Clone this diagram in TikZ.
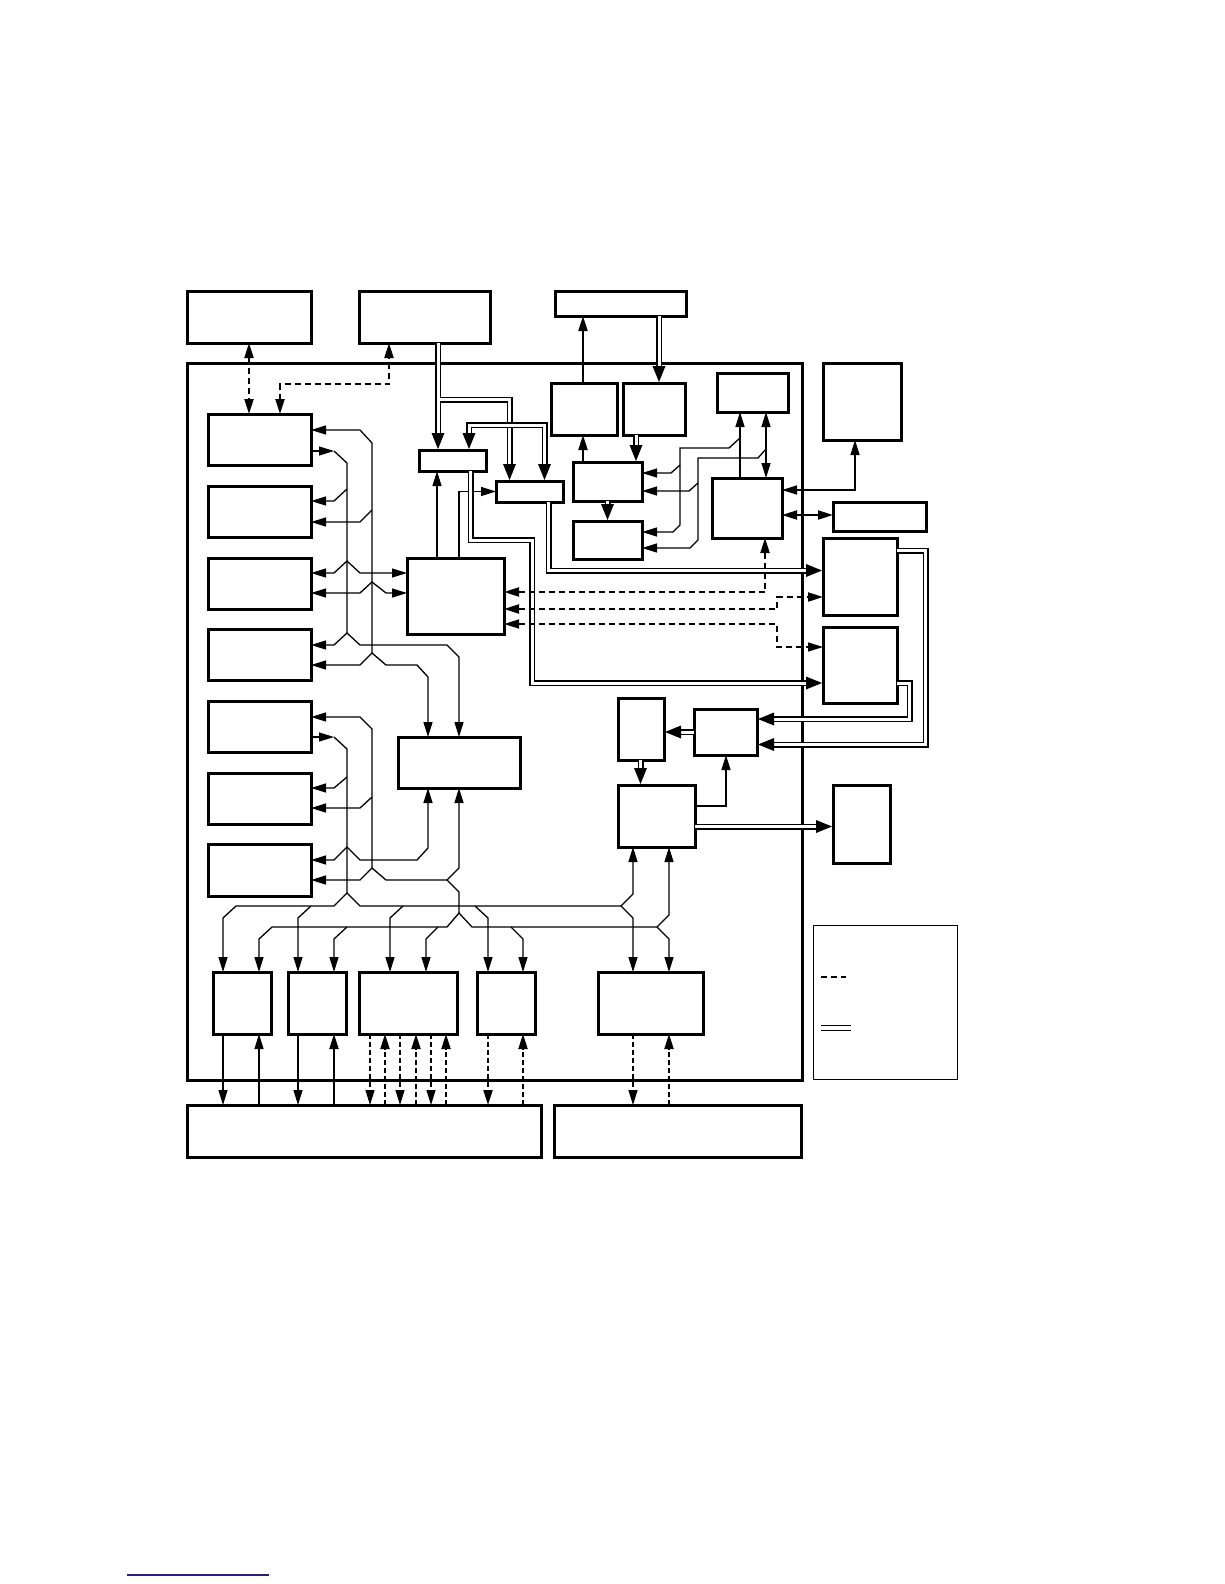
\documentclass[tikz,border=0pt]{standalone}
\usetikzlibrary{arrows.meta}
\definecolor{linkblue}{RGB}{30,30,140}
\newcommand\tipD[2]{\fill (#1-6.5,#2-16) -- (#1+6.5,#2-16) -- (#1,#2) -- cycle;}
\newcommand\tipR[2]{\fill (#1-16,#2-6.5) -- (#1-16,#2+6.5) -- (#1,#2) -- cycle;}
\newcommand\tipL[2]{\fill (#1+16,#2-6.5) -- (#1+16,#2+6.5) -- (#1,#2) -- cycle;}
\begin{document}
\begin{tikzpicture}[x=1pt,y=-1pt,
 box/.style={draw,line width=3pt,inner sep=0pt,outer sep=0pt},
 ln/.style={line width=1.3pt},
 thk/.style={line width=2pt},
 dsh/.style={dash pattern=on 6pt off 4pt},
 dshthin/.style={dash pattern=on 5pt off 3pt, line width=1.2pt},
 dshthk/.style={dash pattern=on 5pt off 3pt, line width=2pt},
 dbl/.style={double, line width=1.5pt, double distance=3pt},
 >={Triangle[length=15pt,width=9pt]},
]
\useasboundingbox (0,0) rectangle (1224,1584);

% ---------- boxes ----------
\node[box,minimum width=124pt,minimum height=52pt] (A) at (249,317) {};
\node[box,minimum width=131pt,minimum height=52pt] (B) at (424.5,317) {};
\node[box,minimum width=131pt,minimum height=25pt] (I) at (620.5,303.5) {};
\node[box,minimum width=615pt,minimum height=717pt] (main) at (494.5,721.5) {};
\node[box,minimum width=78pt,minimum height=77pt] (Q) at (862,401.5) {};
\node[box,minimum width=71pt,minimum height=39pt] (K) at (752.5,392.5) {};
\node[box,minimum width=66pt,minimum height=52pt] (J1) at (584,409) {};
\node[box,minimum width=62pt,minimum height=52pt] (J2) at (654,409) {};
\node[box,minimum width=103pt,minimum height=51pt] (L1) at (259.5,439.5) {};
\node[box,minimum width=103pt,minimum height=51pt] (L2) at (259.5,511.5) {};
\node[box,minimum width=103pt,minimum height=51pt] (L3) at (259.5,583.5) {};
\node[box,minimum width=103pt,minimum height=51pt] (L4) at (259.5,654.5) {};
\node[box,minimum width=103pt,minimum height=51pt] (L5) at (259.5,726.5) {};
\node[box,minimum width=103pt,minimum height=51pt] (L6) at (259.5,798.5) {};
\node[box,minimum width=103pt,minimum height=52pt] (L7) at (259.5,870) {};
\node[box,minimum width=67pt,minimum height=21pt] (M1) at (452.5,460.5) {};
\node[box,minimum width=67pt,minimum height=21pt] (M2) at (529.5,491.5) {};
\node[box,minimum width=69pt,minimum height=39pt] (N1) at (607.5,481.5) {};
\node[box,minimum width=69pt,minimum height=38pt] (N2) at (607.5,540) {};
\node[box,minimum width=70pt,minimum height=60pt] (P) at (747,508) {};
\node[box,minimum width=93pt,minimum height=29pt] (R) at (879.5,516.5) {};
\node[box,minimum width=97pt,minimum height=76pt] (C) at (455.5,596) {};
\node[box,minimum width=74pt,minimum height=77pt] (S1) at (860,576.5) {};
\node[box,minimum width=74pt,minimum height=76pt] (S2) at (860,665) {};
\node[box,minimum width=46pt,minimum height=62pt] (T) at (641,729) {};
\node[box,minimum width=63pt,minimum height=46pt] (U) at (725.5,732) {};
\node[box,minimum width=122pt,minimum height=51pt] (D) at (459,762.5) {};
\node[box,minimum width=77pt,minimum height=62pt] (V) at (656.5,816) {};
\node[box,minimum width=57pt,minimum height=78pt] (W) at (861.5,824) {};
\node[box,minimum width=58pt,minimum height=62pt] (G1) at (242,1003) {};
\node[box,minimum width=58pt,minimum height=62pt] (G2) at (317,1003) {};
\node[box,minimum width=98pt,minimum height=62pt] (G3) at (408,1003) {};
\node[box,minimum width=58pt,minimum height=62pt] (G4) at (506,1003) {};
\node[box,minimum width=105pt,minimum height=62pt] (F) at (650.5,1003) {};
\node[draw,line width=1pt,inner sep=0pt,outer sep=0pt,minimum width=144pt,minimum height=154pt] (Lg) at (885,1002) {};
\node[box,minimum width=354pt,minimum height=52pt] (H1) at (364,1131) {};
\node[box,minimum width=247pt,minimum height=52pt] (H2) at (677.5,1131) {};

% ---------- top dashed ----------
\draw[thk,dsh,<->] (249,0 |- A.south) -- (249,0 |- L1.north);
\draw[thk,dsh,<->] (280,0 |- L1.north) -- (280,384) -- (389,384) -- (389,0 |- B.south);

% ---------- I, J, N ----------
\draw[thk,->] (583,0 |- J1.north) -- (583,0 |- I.south);
\draw[dbl] (659,0 |- I.south) -- (659,374);
\tipD{659}{382}
\draw[thk,->] (583,0 |- N1.north) -- (583,0 |- J1.south);
\draw[dbl] (636,0 |- J2.south) -- (636,453);
\tipD{636}{461}
\draw[dbl] (607.5,0 |- N1.south) -- (607.5,512);
\tipD{607.5}{520}

% ---------- B feeds M1, M2 ----------
\draw[dbl] (438,0 |- B.south) -- (438,441) (438,399.5) -- (509.5,399.5) -- (509.5,472);
\tipD{438}{449}
\tipD{509.5}{480}
\draw[dbl] (469,441) -- (469,425) -- (544.5,425) -- (544.5,472);
\tipD{469}{449}
\tipD{544.5}{480}
\draw[ln,->] (437,0 |- C.north) -- (437,0 |- M1.south);
\draw[ln,->] (459,0 |- C.north) -- (459,491.5) -- (M2.west);

% ---------- M1 -> S2, M2 -> S1 ----------
\draw[dbl] (470.5,0 |- M1.south) -- (470.5,540) -- (532,540) -- (532,683) -- (814,683);
\tipR{822}{683}
\draw[dbl] (548.5,0 |- M2.south) -- (548.5,570.5) -- (814,570.5);
\tipR{822}{570.5}

% ---------- K, P feed N1, N2 ----------
\draw[ln,->] (740,0 |- P.north) -- (740,0 |- K.south);
\draw[ln,->] (740,438) -- (729,448) -- (680,448) -- (680,465) -- (671,473) -- (N1.east |- 0,473);
\draw[ln,->] (680,465) -- (680,525) -- (673,532) -- (N2.east |- 0,532);
\draw[ln,<->] (766,0 |- K.south) -- (766,0 |- P.north);
\draw[ln,->] (766,449) -- (758,458) -- (698,458) -- (698,483) -- (689,491) -- (N1.east |- 0,491);
\draw[ln,->] (698,483) -- (698,540) -- (690,548) -- (N2.east |- 0,548);
\draw[ln,<->] (P.east |- 0,490) -- (855,490) -- (855,0 |- Q.south);
\draw[thk,<->] (P.east |- 0,515) -- (R.west |- 0,515);

% ---------- dashed C links ----------
\draw[thk,dsh,<->] (C.east |- 0,592) -- (765,592) -- (765,0 |- P.south);
\draw[thk,dsh,<->] (C.east |- 0,609) -- (777,609) -- (777,597) -- (S1.west |- 0,597);
\draw[ln,dsh,<->] (C.east |- 0,624) -- (777,624) -- (777,647) -- (S2.west |- 0,647);

% ---------- S1, S2 -> U, T, V, W ----------
\draw[dbl] (S1.east |- 0,550.5) -- (925.5,550.5) -- (925.5,744.5) -- (766,744.5);
\tipL{758}{744.5}
\draw[dbl] (S2.east |- 0,683) -- (909.5,683) -- (909.5,719) -- (766,719);
\tipL{758}{719}
\draw[dbl] (U.west |- 0,732) -- (673,732);
\tipL{665}{732}
\draw[dbl] (640.5,0 |- T.south) -- (640.5,776);
\tipD{640.5}{784}
\draw[ln,->] (V.east |- 0,806) -- (726,806) -- (726,0 |- U.south);
\draw[dbl] (V.east |- 0,826.5) -- (824,826.5);
\tipR{832}{826.5}

% ---------- left buses (upper) ----------
\draw[ln,->] (L1.east |- 0,451) -- (334,451);
\draw[ln] (334,451) -- (347,463) -- (347,633);
\draw[ln,<-] (L1.east |- 0,430) -- (360,430) -- (372,443) -- (372,653);
\draw[ln,->] (347,489) -- (334,501) -- (L2.east |- 0,501);
\draw[ln,->] (372,510) -- (360,522) -- (L2.east |- 0,522);
\draw[ln,<->] (L3.east |- 0,573) -- (334,573) -- (347,561) -- (360,573) -- (C.west |- 0,573);
\draw[ln,<->] (L3.east |- 0,593) -- (360,593) -- (372,582) -- (386,593) -- (C.west |- 0,593);
\draw[ln,<->] (L4.east |- 0,645) -- (334,645) -- (347,633) -- (360,645) -- (447,645) -- (459,657) -- (459,0 |- D.north);
\draw[ln,<->] (L4.east |- 0,665) -- (360,665) -- (372,653) -- (386,665) -- (417,665) -- (428,677) -- (428,0 |- D.north);

% ---------- left buses (lower) ----------
\draw[ln,->] (L5.east |- 0,737) -- (334,737);
\draw[ln] (334,737) -- (347,749) -- (347,893);
\draw[ln,<-] (L5.east |- 0,717) -- (360,717) -- (372,729) -- (372,868);
\draw[ln,->] (347,777) -- (334,788) -- (L6.east |- 0,788);
\draw[ln,->] (372,797) -- (360,808) -- (L6.east |- 0,808);
\draw[ln,<->] (L7.east |- 0,860) -- (334,860) -- (347,847) -- (360,860) -- (417,860) -- (428,848) -- (428,0 |- D.south);
\draw[ln,<->] (L7.east |- 0,880) -- (360,880) -- (372,868) -- (386,880) -- (447,880) -- (459,868) -- (459,0 |- D.south);
\draw[ln] (447,880) -- (459,892) -- (459,913);

% ---------- bottom buses ----------
\draw[ln,<->] (223,0 |- G1.north) -- (223,918) -- (236,906) -- (334,906) -- (347,893) -- (360,906) -- (621,906) -- (633,894) -- (633,0 |- V.south);
\draw[ln,->] (311,906) -- (298,918) -- (298,0 |- G2.north);
\draw[ln,->] (403,906) -- (390,918) -- (390,0 |- G3.north);
\draw[ln,->] (475,906) -- (488,918) -- (488,0 |- G4.north);
\draw[ln,->] (621,906) -- (633,918) -- (633,0 |- F.north);
\draw[ln,<->] (259,0 |- G1.north) -- (259,939) -- (272,927) -- (447,927) -- (459,913) -- (472,927) -- (657,927) -- (669,915) -- (669,0 |- V.south);
\draw[ln,->] (347,927) -- (334,939) -- (334,0 |- G2.north);
\draw[ln,->] (438,927) -- (426,939) -- (426,0 |- G3.north);
\draw[ln,->] (511,927) -- (523,939) -- (523,0 |- G4.north);
\draw[ln,->] (657,927) -- (669,939) -- (669,0 |- F.north);

% ---------- bottom boxes to H1, H2 ----------
\draw[ln,->] (223,0 |- G1.south) -- (223,0 |- H1.north);
\draw[ln,->] (259,0 |- H1.north) -- (259,0 |- G1.south);
\draw[ln,->] (298,0 |- G2.south) -- (298,0 |- H1.north);
\draw[thk,->] (334,0 |- H1.north) -- (334,0 |- G2.south);
\foreach \x in {370,400,431} \draw[dshthin,->] (\x,0 |- G3.south) -- (\x,0 |- H1.north);
\foreach \x in {385,416,446} \draw[dshthk,->] (\x,0 |- H1.north) -- (\x,0 |- G3.south);
\draw[dshthk,->] (488,0 |- G4.south) -- (488,0 |- H1.north);
\draw[dshthk,->] (523,0 |- H1.north) -- (523,0 |- G4.south);
\draw[dshthin,->] (633,0 |- F.south) -- (633,0 |- H2.north);
\draw[dshthk,->] (669,0 |- H2.north) -- (669,0 |- F.south);

% ---------- legend ----------
\draw[thk,dsh] (821,977) -- (846,977);
\draw[line width=1pt] (821,1025) -- (851,1025) (821,1030) -- (851,1030);

% ---------- footnote rule ----------
\draw[line width=1.5pt,color=linkblue] (127,1575) -- (269,1575);
\end{tikzpicture}
\end{document}
